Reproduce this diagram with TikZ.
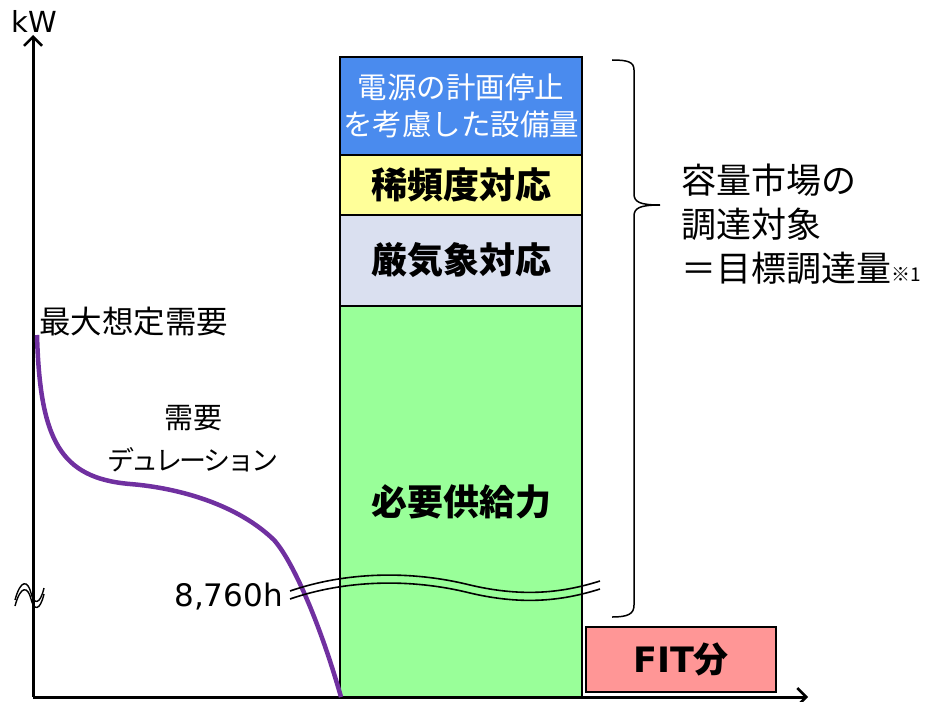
\documentclass[tikz,border=0pt]{standalone}
\usepackage{fontspec}
\setmainfont{Noto Sans CJK JP}
\newfontfamily\lat{DejaVu Sans}
\newfontfamily\jpnarrow[LetterSpace=-10]{Noto Sans CJK JP}
\usetikzlibrary{arrows.meta}
\definecolor{cblue}{RGB}{74,139,238}
\definecolor{cyellow}{RGB}{255,255,153}
\definecolor{clav}{RGB}{218,224,240}
\definecolor{cgreen}{RGB}{153,255,153}
\definecolor{cpink}{RGB}{255,150,150}
\definecolor{cpurple}{RGB}{112,48,160}
\tikzset{
  stackbox/.style={draw=black, line width=2.5pt, minimum width=242pt, inner sep=0pt, align=center},
  boldlbl/.style={font=\fontsize{36}{42}\selectfont\bfseries},
  axisline/.style={line width=3pt, -{Straight Barb[length=9pt,width=18pt,line width=2.5pt]}},
  wave/.style={line width=1.6pt},
  txt/.style={inner sep=0pt, font=\fontsize{30}{36}\selectfont},
  righttxt/.style={inner sep=0pt, anchor=west, font=\fontsize{35}{40}\selectfont},
}
\begin{document}
\begin{tikzpicture}[x=1pt,y=-1pt]
\useasboundingbox (0,0) rectangle (947,701);
% stack
\node[stackbox, fill=cblue, minimum height=98pt, text=white, font=\fontsize{29.5}{37}\selectfont] (plan) at (461,106) {電源の計画停止\\を考慮した設備量};
\node[stackbox, fill=cyellow, minimum height=60pt, boldlbl] (rare) at (461,185) {稀頻度対応};
\node[stackbox, fill=clav, minimum height=91pt, boldlbl] (severe) at (461,260.5) {厳気象対応};
\node[stackbox, fill=cgreen, minimum height=391pt, boldlbl] (need) at (461,501.5) {必要供給力};
% FIT
\node[draw=black, line width=2.5pt, fill=cpink, minimum width=190pt, minimum height=65pt, inner sep=0pt, font=\fontsize{35}{40}\selectfont\bfseries] (fit) at (681,659.5) {{\lat FIT}分};
% axes
\coordinate (origin) at (33,697);
\coordinate (ytip) at (33,35);
\coordinate (xtip) at (808,697);
\draw[axisline] (origin) -- (ytip);
\draw[axisline] (origin) -- (xtip);
\node[txt, font=\lat\fontsize{29}{34}\selectfont] (kw) at (34,21) {kW};
% y-axis break
\coordinate (b1) at (15,600);
\coordinate (b2) at (15,606);
\draw[line width=1.4pt] (b1) .. controls (21,578) and (28,581) .. (31,593) .. controls (34,605) and (40,605) .. (44,588);
\draw[line width=1.4pt] (b2) .. controls (21,584) and (28,587) .. (31,599) .. controls (34,611) and (40,611) .. (44,594);
% demand curve
\coordinate (peak) at (37,335);
\coordinate (c1) at (130,484);
\coordinate (c2) at (274,540);
\coordinate (cend) at (341,697);
\draw[cpurple, line width=4.5pt] (peak) .. controls (40,440) and (60,478) .. (c1)
  .. controls (180,488) and (238,505) .. (c2)
  .. controls (292,560) and (319,620) .. (cend);
% wavy break line
\coordinate (w1s) at (290,591);
\coordinate (w1e) at (600,581);
\coordinate (w2s) at (290,599);
\coordinate (w2e) at (600,589);
\draw[wave] (w1s) .. controls (345,572) and (410,570) .. (470,585) .. controls (525,598) and (565,592) .. (w1e);
\draw[wave] (w2s) .. controls (345,580) and (410,578) .. (470,593) .. controls (525,606) and (565,600) .. (w2e);
% labels
\node[txt, anchor=east, font=\lat\fontsize{31}{36}\selectfont] (hours) at (283,597) {8,760h};
\node[txt, anchor=west, font=\fontsize{31.5}{36}\selectfont] (maxd) at (39,322) {最大想定需要};
\node[txt, font=\fontsize{29}{34}\selectfont] (dem) at (193,418) {需要};
\node[txt, font=\jpnarrow\fontsize{27}{32}\selectfont] (dur) at (193,460) {デュレーション};
% brace
\coordinate (brtop) at (612,60);
\coordinate (brtip) at (660,205);
\coordinate (brbot) at (612,617);
\draw[line width=1.5pt] (brtop) .. controls (628,60) and (634,62) .. (634,70) -- (634,194)
  .. controls (634,202) and (640,205) .. (brtip)
  .. controls (640,205) and (634,208) .. (634,216) -- (634,605)
  .. controls (634,614) and (628,617) .. (brbot);
\node[righttxt] (t1) at (681,180) {容量市場の};
\node[righttxt] (t2) at (681,224) {調達対象};
\node[righttxt] (t3) at (681,268) {＝目標調達量{\fontsize{19}{20}\selectfont ※1}};
\end{tikzpicture}
\end{document}
